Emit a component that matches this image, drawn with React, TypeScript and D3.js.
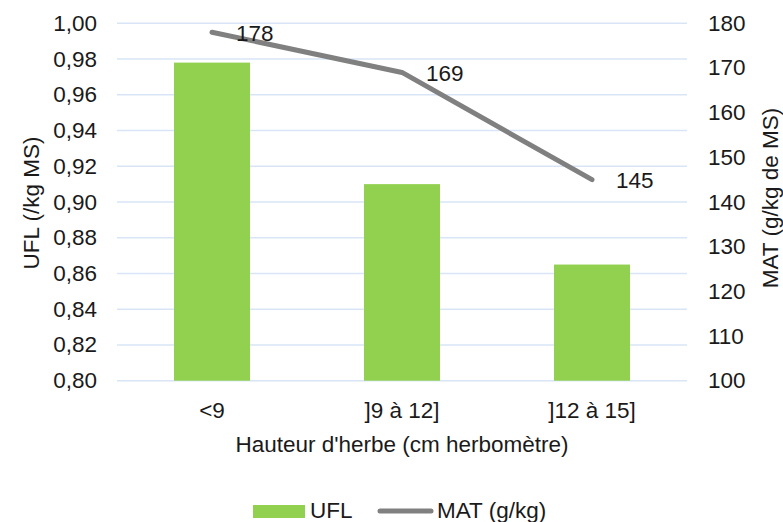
import React from "react";
import * as d3 from "d3";

const categories = ["<9", "]9 à 12]", "]12 à 15]"];
const uflValues = [0.978, 0.91, 0.865];
const matValues = [178, 169, 145];
const leftTicks = [0.8, 0.82, 0.84, 0.86, 0.88, 0.9, 0.92, 0.94, 0.96, 0.98, 1.0];
const rightTicks = [100, 110, 120, 130, 140, 150, 160, 170, 180];

const W = 783;
const H = 522;
const FONT = "'Liberation Sans', Arial, sans-serif";
const TEXT = "#1a1a1a";

export default function App() {
  const x = d3.scaleBand<string>().domain(categories).range([117, 687]).paddingInner(0.6).paddingOuter(0.3);
  const yL = d3.scaleLinear().domain([0.8, 1.0]).range([380.7, 23.3]);
  const yR = d3.scaleLinear().domain([100, 180]).range([380.7, 23.3]);
  const fmt = (v: number) => v.toFixed(2).replace(".", ",");
  const line = d3
    .line<number>()
    .x((_, i) => (x(categories[i]) as number) + x.bandwidth() / 2)
    .y((d) => yR(d));

  return (
    <svg width={W} height={H} style={{ position: "absolute", left: 0, top: 0, display: "block", background: "#fff" }} fontFamily={FONT}>
      {leftTicks.map((t) => (
        <line key={"g" + t} x1={117} x2={687} y1={yL(t)} y2={yL(t)} stroke="#d9e5f6" strokeWidth={1.5} />
      ))}
      {leftTicks.map((t) => (
        <text key={"l" + t} x={97} y={yL(t)} textAnchor="end" dominantBaseline="central" fontSize={22.5} fill={TEXT}>
          {fmt(t)}
        </text>
      ))}
      {rightTicks.map((t) => (
        <text key={"r" + t} x={708} y={yR(t)} textAnchor="start" dominantBaseline="central" fontSize={22.5} fill={TEXT}>
          {t}
        </text>
      ))}
      {categories.map((c, i) => (
        <rect
          key={c}
          x={x(c) as number}
          y={yL(uflValues[i])}
          width={x.bandwidth()}
          height={yL(0.8) - yL(uflValues[i])}
          fill="#92d050"
        />
      ))}
      <path d={line(matValues) as string} fill="none" stroke="#808080" strokeWidth={5} strokeLinecap="round" strokeLinejoin="round" />
      {matValues.map((v, i) => (
        <text
          key={"d" + i}
          x={(x(categories[i]) as number) + x.bandwidth() / 2 + 24}
          y={yR(v) + 1}
          dominantBaseline="central"
          fontSize={22.5}
          fill={TEXT}
        >
          {v}
        </text>
      ))}
      {categories.map((c) => (
        <text key={"c" + c} x={(x(c) as number) + x.bandwidth() / 2} y={410} textAnchor="middle" dominantBaseline="central" fontSize={22.5} fill={TEXT}>
          {c}
        </text>
      ))}
      <text x={402} y={444} textAnchor="middle" dominantBaseline="central" fontSize={22.5} fill={TEXT}>
        Hauteur d'herbe (cm herbomètre)
      </text>
      <text transform="translate(31,203) rotate(-90)" textAnchor="middle" dominantBaseline="central" fontSize={22.5} fill={TEXT}>
        UFL (/kg MS)
      </text>
      <text transform="translate(770,198) rotate(-90)" textAnchor="middle" dominantBaseline="central" fontSize={22.5} fill={TEXT}>
        MAT (g/kg de MS)
      </text>
      <rect x={253} y={505} width={52} height={13} fill="#92d050" />
      <text x={310} y={510} dominantBaseline="central" fontSize={22.5} fill={TEXT}>
        UFL
      </text>
      <line x1={380} x2={431} y1={511} y2={511} stroke="#808080" strokeWidth={5} strokeLinecap="round" />
      <text x={437} y={510} dominantBaseline="central" fontSize={22.5} fill={TEXT}>
        MAT (g/kg)
      </text>
    </svg>
  );
}
